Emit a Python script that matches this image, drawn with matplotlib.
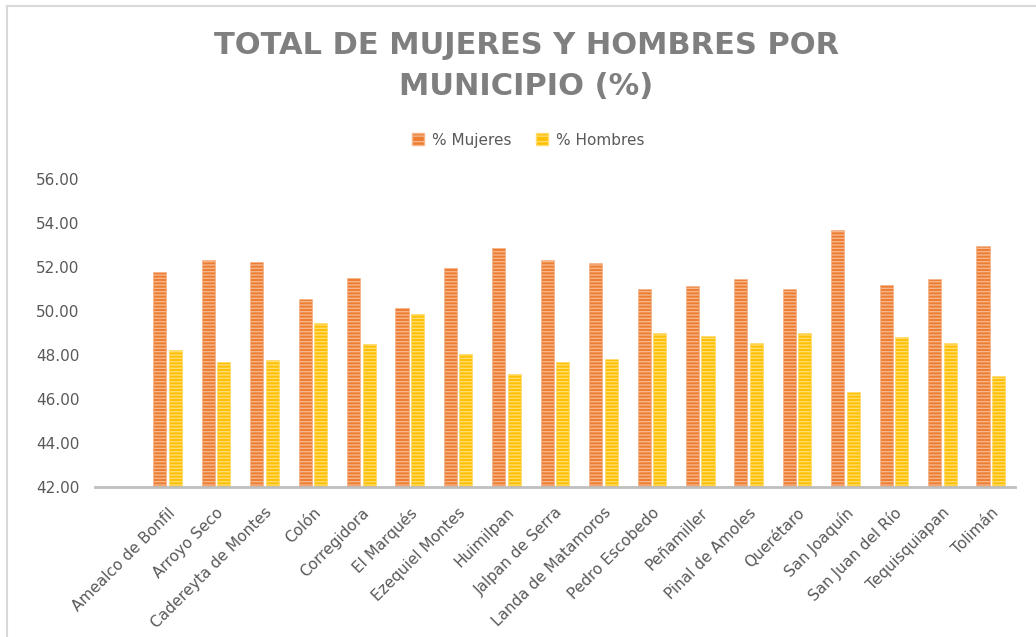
"""
Porcentaje de mujeres y hombres por municipio (Querétaro)
"""

import matplotlib.pyplot as plt
import numpy as np
from matplotlib import rc
from matplotlib.lines import Line2D
from matplotlib.patches import Patch

rc('font', family='DejaVu Sans', size=11)
rc('hatch', linewidth=1.0)

municipios = ['Amealco de Bonfil', 'Arroyo Seco', 'Cadereyta de Montes', 'Colón',
              'Corregidora', 'El Marqués', 'Ezequiel Montes', 'Huimilpan',
              'Jalpan de Serra', 'Landa de Matamoros', 'Pedro Escobedo', 'Peñamiller',
              'Pinal de Amoles', 'Querétaro', 'San Joaquín', 'San Juan del Río',
              'Tequisquiapan', 'Tolimán']
pct_mujeres = [51.78, 52.32, 52.23, 50.53, 51.52, 50.15, 51.96, 52.86, 52.32,
               52.18, 51.02, 51.13, 51.44, 50.98, 53.66, 51.20, 51.47, 52.97]
pct_hombres = [48.22, 47.68, 47.77, 49.47, 48.48, 49.85, 48.04, 47.14, 47.68,
               47.82, 48.98, 48.87, 48.56, 49.02, 46.34, 48.80, 48.53, 47.03]
yticks = [42, 44, 46, 48, 50, 52, 54, 56]

orange, orange_light = '#ED7D31', '#F5B68C'
yellow, yellow_light = '#FFC000', '#FFDC70'
gray_text = '#595959'

fig = plt.figure(figsize=(10.36, 6.37), dpi=100)
ax = fig.add_axes([0.0917, 0.2355, 0.888, 0.4835])

x = np.arange(len(municipios))
w = 0.27
ax.bar(x - 0.16, pct_mujeres, width=w, color=orange, edgecolor=orange_light,
       linewidth=0.6, hatch='-----')
ax.bar(x + 0.16, pct_hombres, width=w, color=yellow, edgecolor=yellow_light,
       linewidth=0.6, hatch='-----')

ax.set_ylim(42, 56)
ax.set_xlim(-1.5, len(municipios) - 0.5)
ax.set_yticks(yticks)
ax.set_yticklabels([f'{v:.2f}' for v in yticks], color=gray_text)
ax.set_xticks(x)
ax.set_xticklabels(municipios, rotation=45, ha='right', va='top',
                   rotation_mode='anchor', color=gray_text)
ax.tick_params(axis='both', length=0)
ax.tick_params(axis='y', pad=11)
ax.tick_params(axis='x', pad=13)

for side in ['top', 'right', 'left']:
    ax.spines[side].set_visible(False)
ax.spines['bottom'].set_color('#BFBFBF')
ax.spines['bottom'].set_linewidth(2)

fig.text(0.508, 0.896, 'TOTAL DE MUJERES Y HOMBRES POR\nMUNICIPIO (%)',
         ha='center', va='center', fontsize=22, fontweight='bold',
         color='#7F7F7F', linespacing=1.5)

handles = [Patch(facecolor=orange, edgecolor=orange_light, hatch='---', label='% Mujeres'),
           Patch(facecolor=yellow, edgecolor=yellow_light, hatch='---', label='% Hombres')]
fig.legend(handles=handles, loc='center', bbox_to_anchor=(0.51, 0.78), ncol=2,
           frameon=False, handlelength=0.8, handleheight=0.8, handletextpad=0.5,
           columnspacing=1.6, labelcolor=gray_text)

# marco del gráfico
fig.add_artist(Line2D([7 / 1036, 1], [1 - 6 / 637, 1 - 6 / 637],
                      color='#D9D9D9', linewidth=1.5))
fig.add_artist(Line2D([7 / 1036, 7 / 1036], [0, 1 - 6 / 637],
                      color='#D9D9D9', linewidth=1.5))

fig.savefig('out.png', dpi=100)
plt.close(fig)
